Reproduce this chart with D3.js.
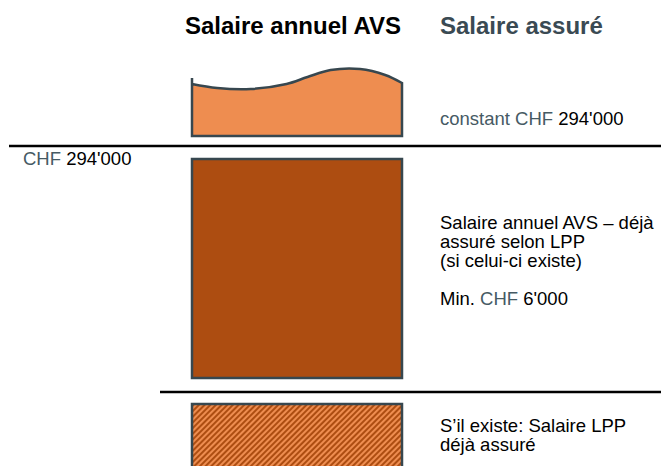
<!DOCTYPE html>
<html>
<head>
<meta charset="utf-8">
<script src="https://cdn.jsdelivr.net/npm/d3@7"></script>
<style>
  body { margin: 0; background: #fff; }
  text { font-family: "Liberation Sans", Arial, sans-serif; }
</style>
</head>
<body>
<div id="chart"></div>
<script>
// column headings
const headings = ["Salaire annuel AVS", "Salaire assuré"];

// rows of the diagram, top to bottom
const rows = ["constant", "avs", "lpp"];
const rowTop = [68, 159, 404];
const rowBottom = [136, 378, 480];
const rowFill = ["light", "dark", "hatch"];

// wavy top of the first box (fraction of width, y)
const waveX = [0, 0.12, 0.28, 0.45, 0.55, 0.66, 0.8, 0.92, 1];
const waveY = [84, 88, 89, 84, 77, 70, 69, 75, 83];
const spikeY = 78;

// right-hand labels: [text, colour] parts per line
const rowLabels = [
  [[["constant CHF ", "slate"], ["294'000", "black"]]],
  [
    [["Salaire annuel AVS – déjà", "black"]],
    [["assuré selon LPP", "black"]],
    [["(si celui-ci existe)", "black"]],
    [],
    [["Min. ", "black"], ["CHF", "slate"], [" 6'000", "black"]]
  ],
  [
    [["S’il existe: Salaire LPP", "black"]],
    [["déjà assuré", "black"]]
  ]
];
const labelY = [125, 229, 432];

// left-hand value on the first divider
const leftLabel = [["CHF ", "slate"], ["294'000", "black"]];

const dividers = [146, 392];
const dividerStart = [9, 160];

const width = 661, height = 466;
const colors = {
  light: "#ee8d50",
  dark: "#ad4d11",
  stroke: "#37474f",
  slate: "#465a64",
  black: "#000"
};

const svg = d3.select("#chart").append("svg")
  .attr("width", width)
  .attr("height", height);

// diagonal hatch for the LPP box
const pat = svg.append("defs").append("pattern")
  .attr("id", "hatch")
  .attr("patternUnits", "userSpaceOnUse")
  .attr("width", 4)
  .attr("height", 4)
  .attr("patternTransform", "rotate(45)");
pat.append("rect").attr("width", 4).attr("height", 4).attr("fill", colors.dark);
pat.append("rect").attr("width", 2).attr("height", 4).attr("fill", colors.light);

const y = d3.scaleLinear().domain([0, height]).range([0, height]);
const x = d3.scaleLinear().domain([0, 1]).range([192, 402]);

// headings
svg.append("text")
  .attr("x", 293).attr("y", 34)
  .attr("text-anchor", "middle")
  .attr("font-size", 24).attr("font-weight", "bold")
  .attr("fill", "#000")
  .text(headings[0]);
svg.append("text")
  .attr("x", 440).attr("y", 34)
  .attr("font-size", 24).attr("font-weight", "bold")
  .attr("fill", "#3a4a53")
  .text(headings[1]);

// dividers
svg.selectAll("line.divider")
  .data(dividers)
  .join("line")
  .attr("class", "divider")
  .attr("x1", (d, i) => dividerStart[i])
  .attr("x2", width)
  .attr("y1", d => y(d)).attr("y2", d => y(d))
  .attr("stroke", "#000")
  .attr("stroke-width", 2.5);

// first box: wavy top, with the little spike at the top-left corner
const wave = d3.line()
  .x(d => x(d[0]))
  .y(d => y(d[1]))
  .curve(d3.curveCatmullRom);
const wavePath = wave(waveX.map((v, i) => [v, waveY[i]]));

svg.append("path")
  .attr("d", "M" + x(0) + "," + y(rowBottom[0]) + "L" + x(0) + "," + y(spikeY) +
    "L" + x(0) + "," + y(waveY[0]) + wavePath.replace(/^M[^A-Z]*/, "") +
    "L" + x(1) + "," + y(rowBottom[0]) + "Z")
  .attr("fill", colors.light)
  .attr("stroke", colors.stroke)
  .attr("stroke-width", 2.5);

const fillOf = f => f === "hatch" ? "url(#hatch)" : colors[f];

svg.selectAll("rect.box")
  .data(rows.slice(1))
  .join("rect")
  .attr("class", "box")
  .attr("x", x(0))
  .attr("width", x(1) - x(0))
  .attr("y", (d, i) => y(rowTop[i + 1]))
  .attr("height", (d, i) => y(rowBottom[i + 1]) - y(rowTop[i + 1]))
  .attr("fill", (d, i) => fillOf(rowFill[i + 1]))
  .attr("stroke", colors.stroke)
  .attr("stroke-width", 2.5);

// labels on the right
rowLabels.forEach((lines, r) => {
  lines.forEach((parts, li) => {
    if (!parts.length) return;
    const t = svg.append("text")
      .attr("x", 440)
      .attr("y", labelY[r] + li * 19)
      .attr("font-size", 18.5);
    parts.forEach(p => t.append("tspan").attr("fill", colors[p[1]]).text(p[0]));
  });
});

// left label
const lt = svg.append("text").attr("x", 23).attr("y", 165).attr("font-size", 18.5);
leftLabel.forEach(p => lt.append("tspan").attr("fill", colors[p[1]]).text(p[0]));
</script>
</body>
</html>
